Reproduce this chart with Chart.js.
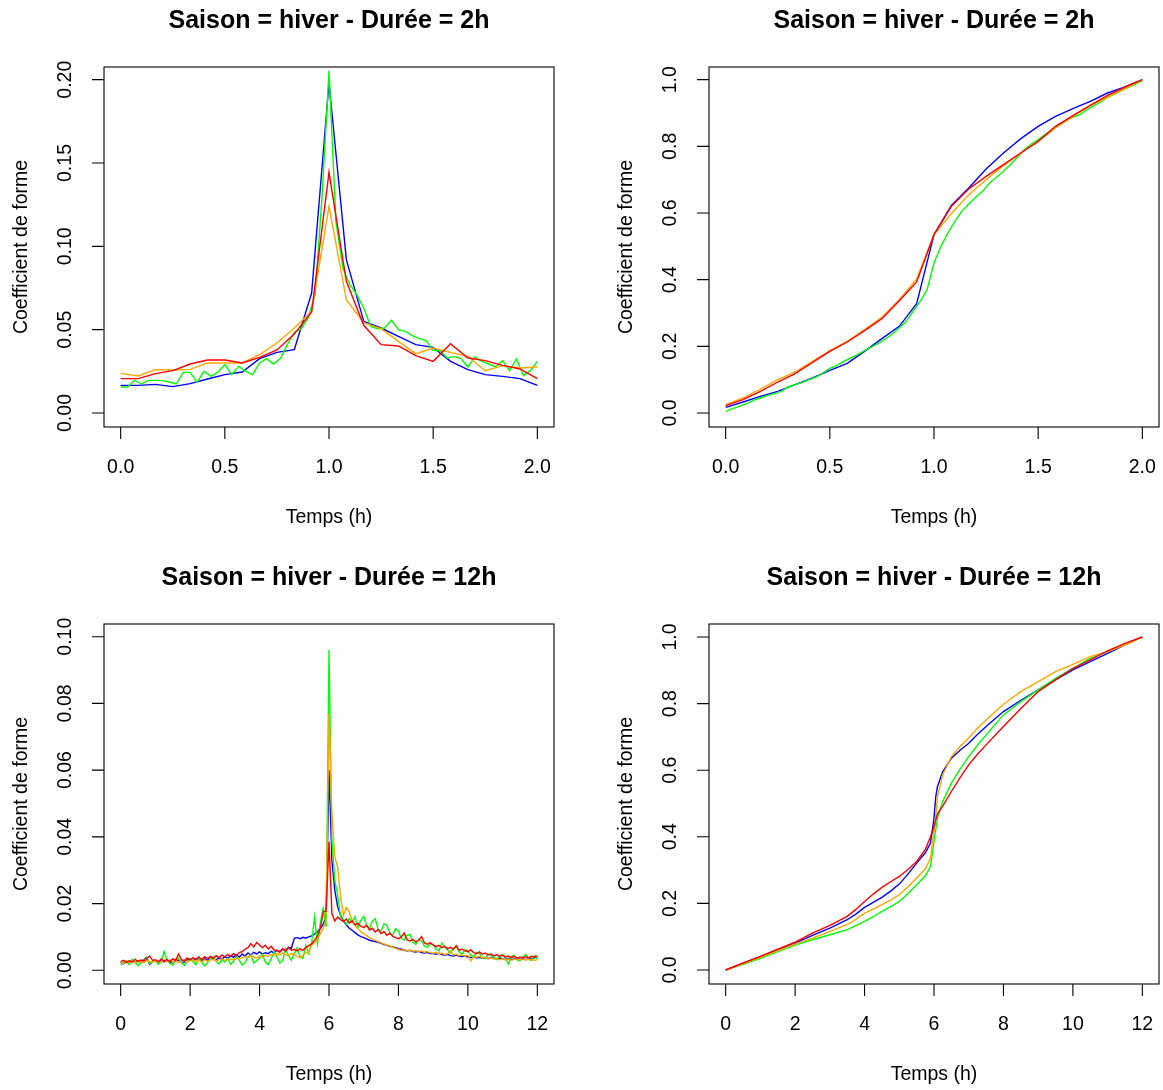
<!DOCTYPE html>
<html>
<head>
<meta charset="utf-8">
<script src="https://cdn.jsdelivr.net/npm/chart.js@4.4.1/dist/chart.umd.min.js"></script>
<style>
  body { margin: 0; width: 1163px; height: 1090px; overflow: hidden; background: #fff; }
  canvas { position: absolute; }
</style>
</head>
<body>
<canvas id="c1" width="605" height="557" style="left:0;top:0"></canvas>
<canvas id="c2" width="558" height="557" style="left:605px;top:0"></canvas>
<canvas id="c3" width="605" height="533" style="left:0;top:557px"></canvas>
<canvas id="c4" width="558" height="533" style="left:605px;top:557px"></canvas>
<script>
// ---- Durée = 2h : coefficient de forme (5 min steps, green at 2 min) ----
const blue2 = [0.0166,0.0166,0.0172,0.0158,0.0176,0.0204,0.0230,0.0246,0.0326,0.0364,0.0380,0.0720,0.1980,
  0.0920,0.0550,0.0510,0.0460,0.0410,0.0394,0.0310,0.0260,0.0230,0.0220,0.0206,0.0166];
const red2 = [0.0206,0.0206,0.0236,0.0254,0.0294,0.0318,0.0318,0.0300,0.0334,0.0378,0.0474,0.0606,0.1444,
  0.0790,0.0526,0.0410,0.0402,0.0344,0.0310,0.0416,0.0330,0.0314,0.0286,0.0264,0.0206];
const orange2 = [0.0238,0.0222,0.0260,0.0258,0.0262,0.0300,0.0300,0.0300,0.0350,0.0420,0.0510,0.0610,0.1240,
  0.0680,0.0540,0.0506,0.0430,0.0356,0.0390,0.0364,0.0340,0.0254,0.0284,0.0270,0.0276];
const green2 = [0.0156,0.0156,0.0196,0.0174,0.0196,0.0196,0.0194,0.0186,0.0174,0.0244,
  0.0244,0.0184,0.0250,0.0220,0.0246,0.0290,0.0230,0.0280,0.0250,0.0230,
  0.0300,0.0326,0.0294,0.0326,0.0410,0.0484,0.0506,0.0570,0.0710,0.1300,
  0.2054,
  0.1150,0.0870,0.0770,0.0710,0.0630,0.0520,0.0506,0.0510,0.0556,0.0500,
  0.0490,0.0464,0.0446,0.0434,0.0374,0.0374,0.0330,0.0338,0.0326,0.0276,
  0.0336,0.0310,0.0294,0.0276,0.0314,0.0254,0.0324,0.0224,0.0254,0.0310];

// ---- Durée = 2h : cumulated ----
const blueC2 = [0.017,0.033,0.050,0.065,0.085,0.105,0.128,0.149,0.185,0.223,0.260,0.328,0.535,
  0.623,0.675,0.732,0.780,0.823,0.860,0.890,0.913,0.935,0.960,0.978,1.000];
const redC2 = [0.022,0.040,0.065,0.093,0.118,0.152,0.185,0.213,0.247,0.283,0.337,0.393,0.535,
  0.620,0.672,0.710,0.745,0.780,0.815,0.860,0.892,0.923,0.953,0.978,1.000];
const orangeC2 = [0.025,0.045,0.072,0.100,0.123,0.155,0.187,0.215,0.250,0.287,0.340,0.402,0.535,
  0.598,0.655,0.700,0.742,0.780,0.815,0.855,0.890,0.923,0.947,0.973,1.000];
const greenC2 = [0.005,0.013,0.020,0.028,0.038,0.045,0.052,0.058,0.065,0.078,
  0.085,0.092,0.100,0.108,0.120,0.134,0.143,0.155,0.165,0.175,
  0.187,0.198,0.209,0.222,0.237,0.255,0.275,0.305,0.335,0.370,
  0.450,
  0.500,0.540,0.575,0.605,0.627,0.647,0.665,0.690,0.707,0.725,
  0.745,0.767,0.790,0.807,0.820,0.835,0.850,0.865,0.878,0.888,
  0.895,0.910,0.922,0.933,0.947,0.957,0.967,0.977,0.987,0.997];

// ---- Durée = 12h : coefficient de forme (5 min steps, one row per hour) ----
const blue12 = [
  0.0024,0.0020,0.0026,0.0022,0.0028,0.0023,0.0029,0.0025,0.0032,0.0039,0.0018,0.0026,
  0.0029,0.0023,0.0031,0.0025,0.0030,0.0026,0.0022,0.0032,0.0030,0.0026,0.0024,0.0031,
  0.0034,0.0029,0.0033,0.0036,0.0028,0.0035,0.0030,0.0037,0.0033,0.0031,0.0038,0.0034,
  0.0041,0.0036,0.0044,0.0039,0.0047,0.0040,0.0049,0.0043,0.0052,0.0046,0.0054,0.0049,
  0.0055,0.0049,0.0053,0.0050,0.0057,0.0052,0.0060,0.0056,0.0063,0.0060,0.0068,0.0066,
  0.0096,0.0098,0.0095,0.0099,0.0097,0.0100,0.0103,0.0109,0.0115,0.0126,0.0138,0.0162,
  0.0600,0.0330,0.0240,0.0190,0.0165,0.0148,0.0136,0.0126,0.0120,0.0113,0.0106,0.0101,
  0.0098,0.0094,0.0090,0.0088,0.0086,0.0084,0.0081,0.0078,0.0075,0.0072,0.0070,0.0068,
  0.0065,0.0063,0.0061,0.0058,0.0060,0.0056,0.0055,0.0057,0.0053,0.0052,0.0054,0.0050,
  0.0050,0.0048,0.0051,0.0047,0.0045,0.0048,0.0044,0.0043,0.0046,0.0042,0.0041,0.0043,
  0.0040,0.0038,0.0041,0.0037,0.0039,0.0036,0.0038,0.0035,0.0039,0.0036,0.0034,0.0037,
  0.0035,0.0033,0.0036,0.0032,0.0034,0.0037,0.0033,0.0035,0.0032,0.0036,0.0034,0.0038,
  0.0039];
const red12 = [
  0.0026,0.0030,0.0023,0.0029,0.0025,0.0033,0.0026,0.0031,0.0028,0.0035,0.0043,0.0030,
  0.0032,0.0026,0.0034,0.0027,0.0033,0.0025,0.0035,0.0029,0.0049,0.0032,0.0029,0.0037,
  0.0031,0.0038,0.0033,0.0040,0.0032,0.0041,0.0035,0.0042,0.0036,0.0044,0.0038,0.0046,
  0.0040,0.0048,0.0042,0.0050,0.0044,0.0053,0.0056,0.0064,0.0068,0.0080,0.0070,0.0083,
  0.0076,0.0068,0.0075,0.0064,0.0072,0.0061,0.0060,0.0054,0.0065,0.0057,0.0068,0.0060,
  0.0063,0.0058,0.0065,0.0060,0.0068,0.0074,0.0079,0.0090,0.0103,0.0125,0.0175,0.0178,
  0.0385,0.0170,0.0148,0.0160,0.0152,0.0146,0.0154,0.0142,0.0148,0.0136,0.0141,0.0132,
  0.0128,0.0135,0.0121,0.0126,0.0115,0.0122,0.0110,0.0116,0.0105,0.0111,0.0102,0.0098,
  0.0095,0.0100,0.0112,0.0091,0.0088,0.0093,0.0085,0.0090,0.0101,0.0082,0.0078,0.0083,
  0.0076,0.0071,0.0075,0.0068,0.0072,0.0065,0.0069,0.0063,0.0074,0.0060,0.0064,0.0058,
  0.0056,0.0061,0.0053,0.0050,0.0055,0.0048,0.0052,0.0046,0.0049,0.0043,0.0047,0.0042,
  0.0045,0.0040,0.0043,0.0038,0.0042,0.0036,0.0040,0.0037,0.0041,0.0038,0.0042,0.0040,
  0.0043];
const orange12 = [
  0.0024,0.0021,0.0027,0.0023,0.0028,0.0022,0.0029,0.0025,0.0023,0.0030,0.0026,0.0024,
  0.0029,0.0024,0.0026,0.0030,0.0025,0.0031,0.0024,0.0029,0.0023,0.0028,0.0030,0.0025,
  0.0029,0.0031,0.0026,0.0030,0.0025,0.0032,0.0027,0.0031,0.0033,0.0028,0.0032,0.0034,
  0.0030,0.0032,0.0034,0.0031,0.0036,0.0033,0.0038,0.0041,0.0037,0.0044,0.0040,0.0037,
  0.0043,0.0040,0.0046,0.0042,0.0048,0.0045,0.0050,0.0046,0.0052,0.0048,0.0044,0.0051,
  0.0047,0.0042,0.0038,0.0046,0.0052,0.0056,0.0074,0.0083,0.0092,0.0110,0.0126,0.0148,
  0.0770,0.0470,0.0340,0.0310,0.0220,0.0165,0.0188,0.0175,0.0150,0.0135,0.0125,0.0116,
  0.0110,0.0104,0.0098,0.0093,0.0090,0.0086,0.0082,0.0079,0.0076,0.0073,0.0070,0.0066,
  0.0063,0.0060,0.0062,0.0058,0.0061,0.0057,0.0059,0.0055,0.0058,0.0054,0.0056,0.0053,
  0.0051,0.0054,0.0049,0.0052,0.0047,0.0050,0.0058,0.0046,0.0048,0.0044,0.0046,0.0042,
  0.0045,0.0028,0.0041,0.0039,0.0042,0.0037,0.0039,0.0035,0.0038,0.0034,0.0036,0.0032,
  0.0035,0.0031,0.0034,0.0030,0.0033,0.0036,0.0032,0.0035,0.0031,0.0034,0.0032,0.0030,
  0.0032];
const green12 = [
  0.0016,0.0024,0.0029,0.0017,0.0033,0.0026,0.0014,0.0022,0.0031,0.0038,0.0020,0.0027,
  0.0030,0.0018,0.0025,0.0056,0.0032,0.0021,0.0016,0.0029,0.0036,0.0023,0.0015,0.0028,
  0.0034,0.0026,0.0017,0.0039,0.0024,0.0014,0.0022,0.0035,0.0040,0.0028,0.0019,0.0032,
  0.0025,0.0036,0.0018,0.0027,0.0043,0.0030,0.0016,0.0024,0.0039,0.0046,0.0022,0.0029,
  0.0037,0.0048,0.0024,0.0017,0.0035,0.0055,0.0041,0.0022,0.0029,0.0065,0.0044,0.0030,
  0.0052,0.0068,0.0040,0.0036,0.0075,0.0050,0.0082,0.0160,0.0079,0.0142,0.0186,0.0130,
  0.0960,0.0390,0.0270,0.0225,0.0160,0.0152,0.0138,0.0156,0.0144,0.0160,0.0128,0.0150,
  0.0162,0.0135,0.0126,0.0148,0.0155,0.0122,0.0118,0.0140,0.0136,0.0112,0.0104,0.0125,
  0.0118,0.0096,0.0090,0.0105,0.0108,0.0084,0.0078,0.0092,0.0088,0.0072,0.0069,0.0081,
  0.0076,0.0064,0.0058,0.0082,0.0070,0.0061,0.0052,0.0066,0.0071,0.0055,0.0048,0.0062,
  0.0059,0.0045,0.0041,0.0054,0.0050,0.0038,0.0035,0.0049,0.0046,0.0039,0.0032,0.0044,
  0.0047,0.0036,0.0019,0.0042,0.0045,0.0031,0.0029,0.0040,0.0048,0.0033,0.0030,0.0044,
  0.0035];

// ---- Durée = 12h : cumulated (read at these times) ----
const cumT12 = [0,0.5,1,1.5,2,2.5,3,3.5,3.75,4,4.25,4.5,4.75,5,5.25,5.5,5.75,5.9,
  6,6.05,6.1,6.25,6.5,6.75,7,7.25,7.5,8,8.5,9,9.5,10,10.5,11,11.5,12];
const blueC12 = [0,0.020,0.040,0.061,0.081,0.104,0.126,0.151,0.168,0.188,0.203,0.218,0.237,0.258,0.288,0.321,0.352,0.381,
  0.456,0.520,0.551,0.595,0.636,0.660,0.681,0.707,0.731,0.776,0.810,0.841,0.871,0.901,0.926,0.951,0.976,1.000];
const redC12 = [0,0.021,0.041,0.063,0.084,0.111,0.134,0.161,0.182,0.206,0.228,0.248,0.265,0.281,0.302,0.326,0.362,0.400,
  0.430,0.450,0.468,0.492,0.536,0.578,0.616,0.648,0.676,0.731,0.785,0.836,0.871,0.906,0.931,0.958,0.981,1.000];
const orangeC12 = [0,0.019,0.038,0.058,0.078,0.096,0.116,0.136,0.152,0.171,0.183,0.196,0.210,0.226,0.250,0.276,0.303,0.336,
  0.416,0.460,0.520,0.586,0.641,0.671,0.697,0.726,0.751,0.798,0.836,0.866,0.896,0.918,0.941,0.956,0.976,1.000];
const greenC12 = [0,0.017,0.035,0.055,0.075,0.091,0.106,0.121,0.133,0.146,0.160,0.176,0.190,0.206,0.230,0.256,0.283,0.311,
  0.386,0.420,0.456,0.506,0.561,0.603,0.641,0.675,0.706,0.766,0.806,0.841,0.876,0.906,0.936,0.956,0.978,1.000];

// tick values
const xTicks2 = [0, 0.5, 1, 1.5, 2];
const xTicks12 = [0, 2, 4, 6, 8, 10, 12];
const yTicksCoef2 = [0, 0.05, 0.1, 0.15, 0.2];
const yTicksCoef12 = [0, 0.02, 0.04, 0.06, 0.08, 0.1];
const yTicksCum = [0, 0.2, 0.4, 0.6, 0.8, 1];

const COLORS = { blue: "#0000FF", green: "#00FF00", orange: "#FFA500", red: "#FF0000" };
const FONT = '"Liberation Sans", Arial, Helvetica, sans-serif';

// sample times: n samples evenly spread over [0, end]
const grid = (n, end) => Array.from({ length: n }, (_, i) => (end * i) / (n - 1));

// R base-graphics look: box, outside ticks, rotated y labels
const rAxes = {
  id: "rAxes",
  afterDraw(chart, args, opts) {
    const { ctx, chartArea: a, scales } = chart;
    const x = scales.x, y = scales.y;
    const cx = (a.left + a.right) / 2, cy = (a.top + a.bottom) / 2;
    ctx.save();
    ctx.strokeStyle = "#000";
    ctx.fillStyle = "#000";
    ctx.lineWidth = 1.1;
    ctx.strokeRect(a.left, a.top, a.right - a.left, a.bottom - a.top);

    ctx.beginPath();
    opts.xTicks.forEach((v) => {
      const px = x.getPixelForValue(v);
      ctx.moveTo(px, a.bottom);
      ctx.lineTo(px, a.bottom + 12);
    });
    opts.yTicks.forEach((v) => {
      const py = y.getPixelForValue(v);
      ctx.moveTo(a.left, py);
      ctx.lineTo(a.left - 12, py);
    });
    ctx.stroke();

    ctx.font = "19.5px " + FONT;
    ctx.textAlign = "center";
    ctx.textBaseline = "alphabetic";
    opts.xTicks.forEach((v) => {
      ctx.fillText(v.toFixed(opts.xDigits), x.getPixelForValue(v), a.bottom + 46);
    });
    opts.yTicks.forEach((v) => {
      ctx.save();
      ctx.translate(a.left - 33.5, y.getPixelForValue(v));
      ctx.rotate(-Math.PI / 2);
      ctx.fillText(v.toFixed(opts.yDigits), 0, 0);
      ctx.restore();
    });

    // axis titles
    ctx.fillText("Temps (h)", cx, a.bottom + 95.5);
    ctx.save();
    ctx.translate(a.left - 77, cy);
    ctx.rotate(-Math.PI / 2);
    ctx.fillText("Coefficient de forme", 0, 0);
    ctx.restore();

    // main title
    ctx.font = "bold 25px " + FONT;
    ctx.fillText(opts.title, cx, 27.5);
    ctx.restore();
  },
};

function drawPanel(id, cfg) {
  const canvas = document.getElementById(id);
  return new Chart(canvas, {
    type: "line",
    data: {
      datasets: cfg.series.map((s) => ({
        data: s.t.map((t, i) => ({ x: t, y: s.v[i] })),
        borderColor: s.color,
        borderWidth: 1.4,
        pointRadius: 0,
        tension: 0,
        fill: false,
      })),
    },
    options: {
      responsive: false,
      animation: false,
      events: [],
      layout: {
        padding: { left: 104, top: 67, right: canvas.width - 554, bottom: canvas.height - 427 },
      },
      scales: {
        x: { type: "linear", display: false, min: cfg.xRange[0], max: cfg.xRange[1] },
        y: { type: "linear", display: false, min: cfg.yRange[0], max: cfg.yRange[1] },
      },
      plugins: {
        legend: { display: false },
        tooltip: { enabled: false },
        rAxes: {
          title: cfg.title,
          xTicks: cfg.xTicks,
          yTicks: cfg.yTicks,
          xDigits: cfg.xDigits,
          yDigits: cfg.yDigits,
        },
      },
    },
    plugins: [rAxes],
  });
}

const t2 = grid(25, 2);      // 5 min
const t2g = grid(61, 2);     // 2 min
const t12 = grid(145, 12);   // 5 min

// first dataset is drawn on top
drawPanel("c1", {
  title: "Saison = hiver - Durée = 2h",
  series: [
    { t: t2, v: red2, color: COLORS.red },
    { t: t2, v: orange2, color: COLORS.orange },
    { t: t2g, v: green2, color: COLORS.green },
    { t: t2, v: blue2, color: COLORS.blue },
  ],
  xRange: [-0.08, 2.08], yRange: [-0.0084, 0.2076],
  xTicks: xTicks2, yTicks: yTicksCoef2, xDigits: 1, yDigits: 2,
});

drawPanel("c2", {
  title: "Saison = hiver - Durée = 2h",
  series: [
    { t: t2, v: redC2, color: COLORS.red },
    { t: t2, v: orangeC2, color: COLORS.orange },
    { t: t2g, v: greenC2, color: COLORS.green },
    { t: t2, v: blueC2, color: COLORS.blue },
  ],
  xRange: [-0.08, 2.08], yRange: [-0.042, 1.038],
  xTicks: xTicks2, yTicks: yTicksCum, xDigits: 1, yDigits: 1,
});

drawPanel("c3", {
  title: "Saison = hiver - Durée = 12h",
  series: [
    { t: t12, v: red12, color: COLORS.red },
    { t: t12, v: orange12, color: COLORS.orange },
    { t: t12, v: green12, color: COLORS.green },
    { t: t12, v: blue12, color: COLORS.blue },
  ],
  xRange: [-0.48, 12.48], yRange: [-0.0041, 0.1038],
  xTicks: xTicks12, yTicks: yTicksCoef12, xDigits: 0, yDigits: 2,
});

drawPanel("c4", {
  title: "Saison = hiver - Durée = 12h",
  series: [
    { t: cumT12, v: redC12, color: COLORS.red },
    { t: cumT12, v: orangeC12, color: COLORS.orange },
    { t: cumT12, v: greenC12, color: COLORS.green },
    { t: cumT12, v: blueC12, color: COLORS.blue },
  ],
  xRange: [-0.48, 12.48], yRange: [-0.042, 1.039],
  xTicks: xTicks12, yTicks: yTicksCum, xDigits: 0, yDigits: 1,
});
</script>
</body>
</html>
